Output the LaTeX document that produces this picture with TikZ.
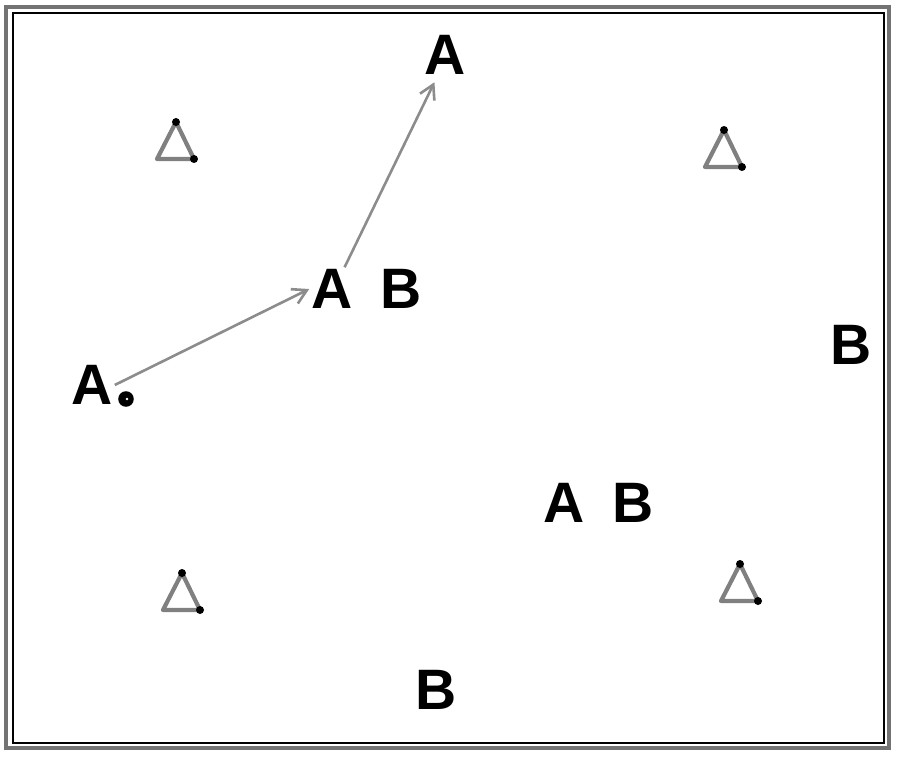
\documentclass[tikz,border=0pt]{standalone}
\usepackage{fontspec}
\setmainfont{Liberation Sans}
\usetikzlibrary{arrows.meta}

\tikzset{
    player/.style={font=\fontsize{57}{57}\selectfont\bfseries, inner sep=2pt},
    pass/.style={draw=black!45, line width=2.6pt, -{Straight Barb[length=14pt,width=16pt,line width=2.6pt]}},
}

\begin{document}
\begin{tikzpicture}[x=1pt,y=-1pt]
    \useasboundingbox (0,0) rectangle (900,757);

    % frame
    \draw [black!55, line width=4.5pt] (6,7) rectangle (889,748);
    \draw [black, line width=1.8pt] (13,13) rectangle (884,743);

    % cones
    \foreach \x/\y in {176/159, 724/167, 182/610, 740/601} {
        \draw [black!50, line width=4.2pt, line join=round] (\x,\y-37) -- (\x+18,\y) -- (\x-19,\y) -- cycle;
        \fill (\x,\y-37) circle (4);
        \fill (\x+18,\y) circle (4);
    }

    % players
    \node (a1) at (92,385) [player] {A};
    \node (a2) at (332,289) [player] {A};
    \node (a3) at (445,55) [player] {A};
    \node (a4) at (564,503) [player] {A};
    \node (b1) at (401,289) [player] {B};
    \node (b2) at (851,345) [player] {B};
    \node (b3) at (633,503) [player] {B};
    \node (b4) at (436,690) [player] {B};

    % ball
    \node (ball) at (126,399) [circle,fill=black,inner sep=5.5pt] {};
    \fill [white] ([shift={(1,0)}]ball.center) circle (1.3);

    \draw [pass] (a1.east) -- (a2.west);
    \draw [pass, shorten >=6pt] (a2.60) -- (a3.250);
\end{tikzpicture}
\end{document}
